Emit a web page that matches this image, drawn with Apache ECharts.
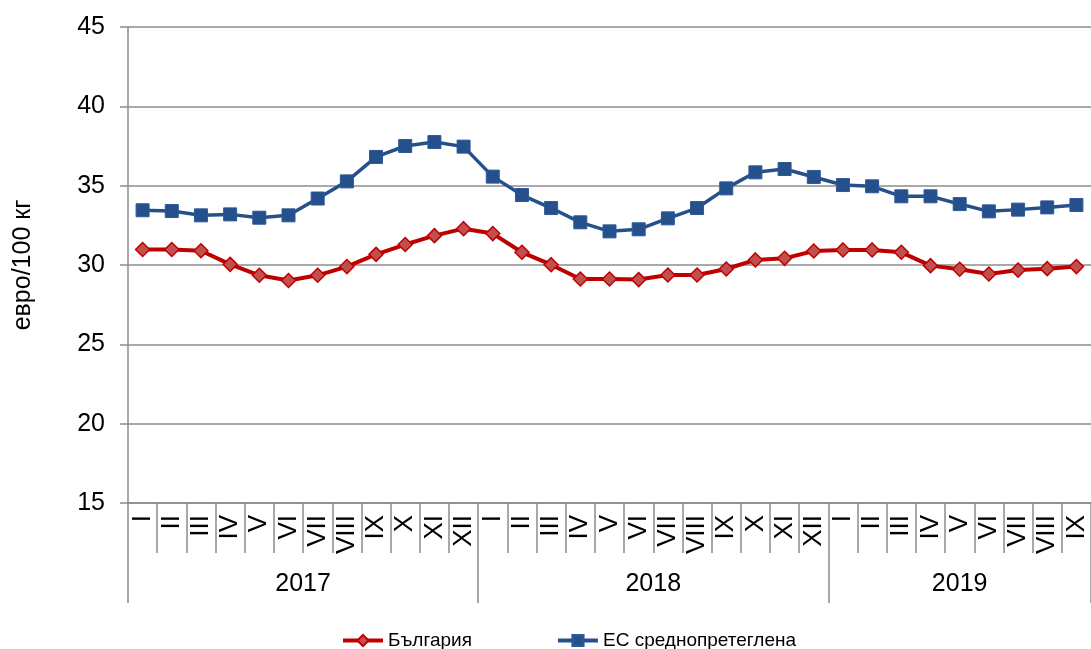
<!DOCTYPE html>
<html>
<head>
<meta charset="utf-8">
<script src="https://cdn.jsdelivr.net/npm/echarts@6/dist/echarts.min.js"></script>
<style>
  html, body { margin: 0; padding: 0; background: #fff; }
  #chart { width: 1091px; height: 649px; }
</style>
</head>
<body>
<div id="chart"></div>
<script>
const years = ['2017', '2018', '2019']
const monthCounts = [12, 12, 9]
const roman = ['I', 'II', 'III', 'IV', 'V', 'VI', 'VII', 'VIII', 'IX', 'X', 'XI', 'XII']
const months = monthCounts.flatMap((n) => roman.slice(0, n))

const bulgaria = [
  30.98, 30.98, 30.9, 30.04, 29.35, 29.02, 29.35, 29.9, 30.67, 31.29, 31.85, 32.29,
  31.98, 30.8, 30.02, 29.12, 29.12, 29.08, 29.37, 29.37, 29.75, 30.32, 30.42, 30.88,
  30.95, 30.95, 30.8, 29.96, 29.73, 29.43, 29.68, 29.77, 29.9,
]
const euAverage = [
  33.45, 33.4, 33.13, 33.19, 32.98, 33.13, 34.19, 35.27, 36.81, 37.5, 37.75, 37.46,
  35.57, 34.41, 33.59, 32.69, 32.12, 32.25, 32.94, 33.59, 34.83, 35.84, 36.05, 35.55,
  35.04, 34.96, 34.33, 34.33, 33.84, 33.38, 33.49, 33.63, 33.78,
]

const seriesNames = ['България', 'ЕС среднопретеглена']

// year group boundaries and centres on a 0..n scale
const yearEdges = [0]
monthCounts.forEach((n) => yearEdges.push(yearEdges[yearEdges.length - 1] + n))
const yearCentres = years.map((_, i) => (yearEdges[i] + yearEdges[i + 1]) / 2)

const font = "'Liberation Sans', Arial, sans-serif"
const gray = '#8c8c8c'
const red = '#c00000'
const blue = '#26508a'

const chart = echarts.init(document.getElementById('chart'))

chart.setOption({
  animation: false,
  grid: { left: 128, top: 27, width: 970, height: 476, containLabel: false },
  legend: {
    top: 626,
    left: 336,
    itemWidth: 40,
    itemHeight: 14,
    itemGap: 84,
    textStyle: { fontFamily: font, fontSize: 19, color: '#000' },
    data: [
      { name: seriesNames[0], lineStyle: { color: red, width: 4 } },
      { name: seriesNames[1], lineStyle: { color: blue, width: 4 } },
    ],
  },
  xAxis: [
    {
      type: 'category',
      data: months,
      boundaryGap: true,
      axisLine: { lineStyle: { color: gray, width: 1.5 } },
      axisTick: { show: true, length: 50, interval: 0, lineStyle: { color: gray, width: 1.5 } },
      axisLabel: {
        interval: 0,
        rotate: 90,
        margin: 12,
        fontSize: 26,
        fontFamily: font,
        color: '#000',
      },
    },
    {
      type: 'value',
      position: 'bottom',
      min: 0,
      max: yearEdges[yearEdges.length - 1],
      axisLine: { show: false },
      splitLine: { show: false },
      axisTick: {
        show: true,
        length: 100,
        customValues: yearEdges,
        lineStyle: { color: gray, width: 1.5 },
      },
      axisLabel: {
        customValues: yearCentres,
        formatter: (v) => years[yearCentres.indexOf(v)] ?? '',
        margin: 69,
        fontSize: 25,
        fontFamily: font,
        color: '#000',
      },
    },
  ],
  yAxis: {
    type: 'value',
    min: 15,
    max: 45,
    interval: 5,
    name: 'евро/100 кг',
    nameLocation: 'middle',
    nameGap: 92,
    nameTextStyle: { fontFamily: font, fontSize: 25, color: '#000' },
    axisLine: { show: true, lineStyle: { color: gray, width: 1.5 } },
    axisTick: { show: true, length: 8, lineStyle: { color: gray, width: 1.5 } },
    axisLabel: { margin: 23, fontSize: 25, fontFamily: font, color: '#000' },
    splitLine: { lineStyle: { color: gray, width: 1.5 } },
  },
  series: [
    {
      name: seriesNames[1],
      type: 'line',
      data: euAverage,
      symbol: 'rect',
      symbolSize: 13,
      lineStyle: { color: blue, width: 3.5 },
      itemStyle: { color: '#25508c', borderColor: '#2c5a96', borderWidth: 1 },
    },
    {
      name: seriesNames[0],
      type: 'line',
      data: bulgaria,
      symbol: 'diamond',
      symbolSize: 14,
      lineStyle: { color: red, width: 4 },
      itemStyle: { color: '#c0504d', borderColor: red, borderWidth: 1.5 },
    },
  ],
})
</script>
</body>
</html>
